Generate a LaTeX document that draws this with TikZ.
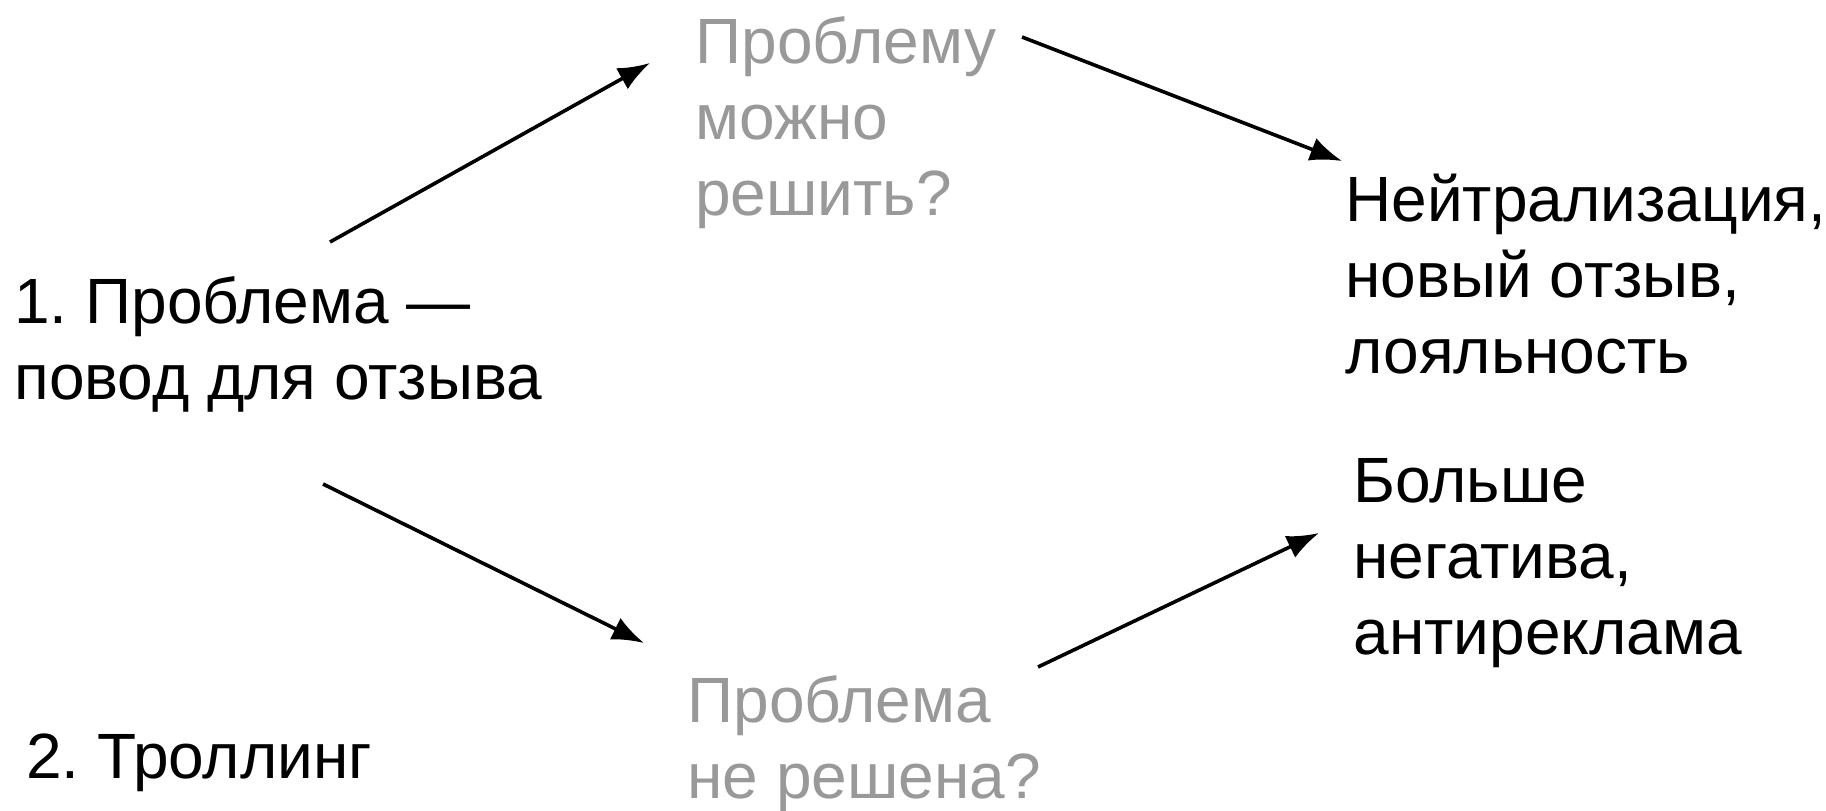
\documentclass[tikz,border=0pt]{standalone}
\usepackage{fontspec}
\setmainfont{Liberation Sans}
\usepackage{tikz}
\usetikzlibrary{arrows.meta}
\definecolor{qgrey}{HTML}{999999}
\frenchspacing

\begin{document}
\begin{tikzpicture}[x=0.5pt,y=-0.5pt,
    every node/.style={inner sep=0pt,anchor=base west,align=left,
      font=\fontsize{32}{38}\selectfont},
    qtext/.style={text=qgrey},
    arr/.style={line width=1.8pt,-{Latex[length=16pt,width=12pt]}}]
\useasboundingbox (0,0) rectangle (1826,810);

\node (reason) at (14,399) {1. Проблема —\\повод для отзыва};
\node (troll) at (26,778) {2. Троллинг};
\node[qtext] (solved) at (695,215) {Проблему\\можно\\решить?};
\node[qtext] (unsolved) at (687,798) {Проблема\\не решена?};
\node (good) at (1345,373) {Нейтрализация,\\новый отзыв,\\лояльность};
\node (bad) at (1353,654) {Больше\\негатива,\\антиреклама};

\coordinate (r1) at (330,242);
\coordinate (s1) at (650,63);
\coordinate (s2) at (1022,37);
\coordinate (g1) at (1342,161);
\coordinate (r2) at (323,484);
\coordinate (u1) at (644,643);
\coordinate (u2) at (1038,667);
\coordinate (b1) at (1319,533);

\draw[arr] (r1) -- (s1);
\draw[arr] (s2) -- (g1);
\draw[arr] (r2) -- (u1);
\draw[arr] (u2) -- (b1);
\end{tikzpicture}
\end{document}
